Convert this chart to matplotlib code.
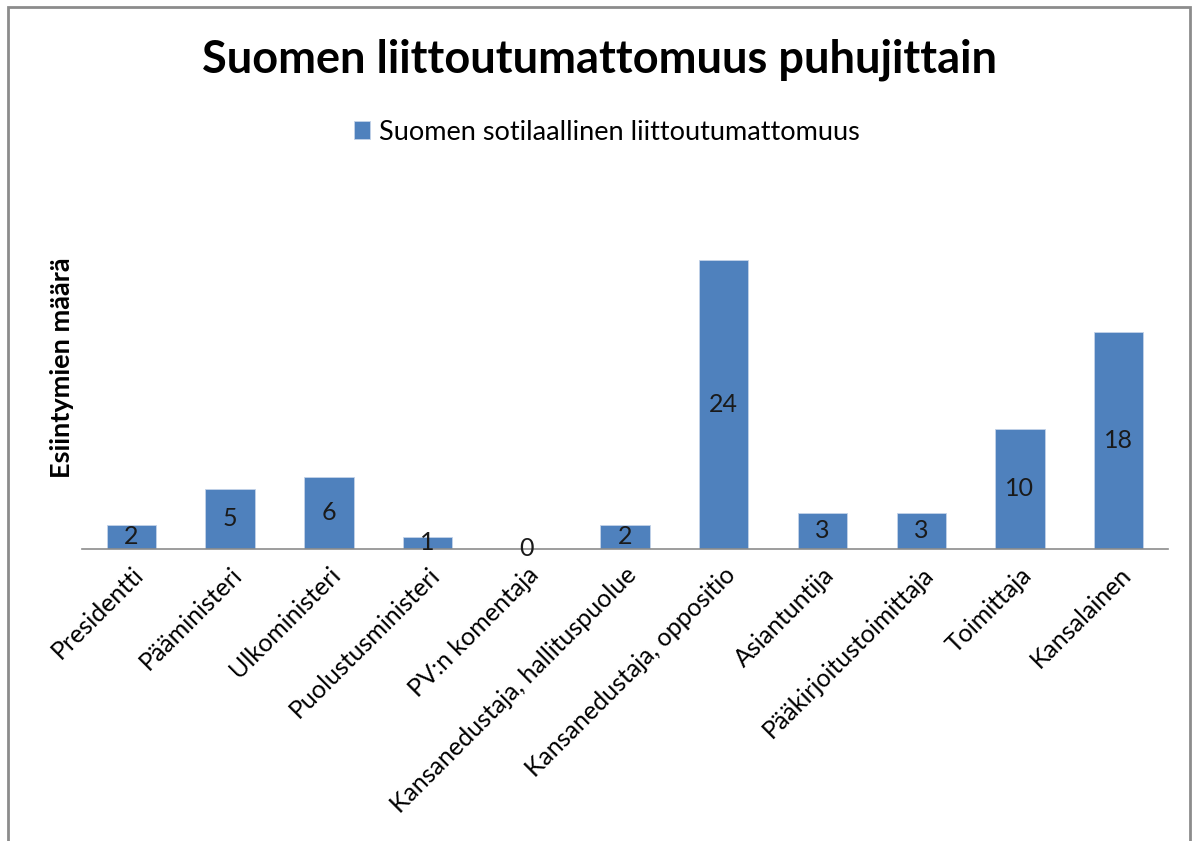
import matplotlib
matplotlib.use("Agg")
import matplotlib.pyplot as plt
from matplotlib.patches import Rectangle

categories = ["Presidentti", "Pääministeri", "Ulkoministeri", "Puolustusministeri",
              "PV:n komentaja", "Kansanedustaja, hallituspuolue",
              "Kansanedustaja, oppositio", "Asiantuntija", "Pääkirjoitustoimittaja",
              "Toimittaja", "Kansalainen"]
values = [2, 5, 6, 1, 0, 2, 24, 3, 3, 10, 18]
series_name = "Suomen sotilaallinen liittoutumattomuus"
title = "Suomen liittoutumattomuus puhujittain"
ylabel = "Esiintymien määrä"

W, H = 1197, 841
fig = plt.figure(figsize=(W / 100, H / 100), dpi=100)
plt.rcParams['font.family'] = ['Lato', 'DejaVu Sans']

# frame around chart area
fig.patches.append(Rectangle((8 / W, -0.05), (1190 - 8) / W, (H - 7) / H + 0.05,
                             transform=fig.transFigure, fill=False,
                             edgecolor="#8c8c8c", linewidth=2.0))

x0, x1 = 82, 1168
ybase, ytop = 549, 188
ax = fig.add_axes([x0 / W, 1 - ybase / H, (x1 - x0) / W, (ybase - ytop) / H])
color = "#4f81bd"
xs = range(len(categories))
bars = ax.bar(xs, values, width=0.5, color=color, edgecolor="#c3d3e8", linewidth=0.6,
              label=series_name, zorder=2)
ax.set_xlim(-0.5, len(categories) - 0.5)
ax.set_ylim(0, 30)
for s in ["top", "right", "left"]:
    ax.spines[s].set_visible(False)
ax.spines["bottom"].set_color("#8c8c8c")
ax.spines["bottom"].set_linewidth(1.2)
ax.set_yticks([])
ax.set_xticks(list(xs))
ax.set_xticklabels(categories, rotation=45, ha="right", rotation_mode="anchor",
                   fontsize=18, color="#000000")
ax.tick_params(axis="x", length=0, pad=10)

for xi, v in zip(xs, values):
    ax.text(xi, v / 2, str(v), ha="center", va="center", fontsize=18, color="#1a1a1a",
            zorder=3)

fig.text(62 / W, 1 - 368 / H, ylabel, rotation=90, ha="center", va="center",
         fontsize=19.5, fontweight="bold")
fig.text(600 / W, 1 - 60 / H, title, ha="center", va="center", fontsize=32.5,
         fontweight="bold")

fig.legend(handles=[bars], labels=[series_name], loc="center",
           bbox_to_anchor=(607 / W, 1 - 132 / H), frameon=False, fontsize=19.5,
           handlelength=0.6, handleheight=0.6, handletextpad=0.35)

fig.savefig("out.png", dpi=100)
